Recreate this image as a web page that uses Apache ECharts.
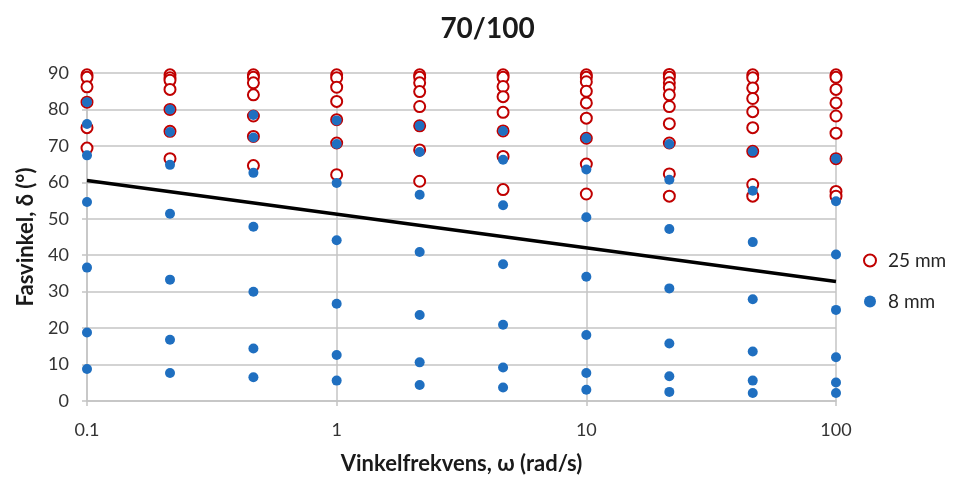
<!DOCTYPE html>
<html>
<head>
<meta charset="utf-8">
<script src="https://cdn.jsdelivr.net/npm/echarts@6/dist/echarts.min.js"></script>
<style>
  html, body { margin: 0; padding: 0; background: #fff; }
  #chart { width: 975px; height: 480px; }
</style>
</head>
<body>
<div id="chart"></div>
<script>
// Angular frequencies (rad/s) of the measurement columns
const freqs = [0.1, 0.215, 0.464, 1, 2.15, 4.64, 10, 21.5, 46.4, 100];

// Phase angle (°) per frequency column, 25 mm plate
const phase25 = [
  [90.2, 89.5, 88.8, 86.2, 82, 75, 69.4],
  [90.2, 89.5, 88.7, 88, 85.5, 80, 74, 66.5],
  [90.2, 89.5, 88.8, 87.3, 84, 78.2, 72.6, 64.6],
  [90.2, 89.5, 88.7, 86.1, 82.2, 77.2, 70.8, 62.1],
  [90.2, 89.5, 88.8, 87.3, 84.9, 80.8, 75.5, 68.9, 60.3],
  [90.2, 89.5, 88.8, 86.3, 83.5, 79.2, 74.1, 67.1, 58],
  [90.2, 89.5, 88.8, 87.6, 85, 81.8, 77.6, 72.1, 65, 56.8],
  [90.3, 89.6, 88.8, 87.3, 86, 84, 80.8, 76.1, 70.8, 62.3, 56.2],
  [90.3, 89.5, 88.7, 85.9, 83, 79.4, 75, 68.5, 59.4, 56.2],
  [90.3, 89.5, 88.8, 85.5, 81.8, 78.2, 73.5, 66.5, 57.5, 56.2]
];

// Phase angle (°) per frequency column, 8 mm plate
const phase8 = [
  [82, 76, 67.4, 54.6, 36.6, 18.8, 8.8],
  [80, 73.8, 64.8, 51.4, 33.3, 16.8, 7.7],
  [78.5, 72.3, 62.6, 47.8, 30, 14.4, 6.5],
  [77, 70.5, 59.8, 44.1, 26.7, 12.6, 5.6],
  [75.5, 68.3, 56.6, 40.9, 23.6, 10.6, 4.4],
  [74.1, 66.2, 53.7, 37.5, 20.9, 9.2, 3.7],
  [72.1, 63.5, 50.4, 34.1, 18.1, 7.7, 3.1],
  [70.5, 60.7, 47.2, 30.9, 15.8, 6.8, 2.5],
  [68.5, 57.7, 43.6, 27.9, 13.6, 5.6, 2.2],
  [66.5, 54.8, 40.2, 25, 12, 5.1, 2.2]
];

// Reference line end points
const lineFreq = [0.1, 100];
const linePhase = [60.5, 32.8];

const yTicks = [0, 10, 20, 30, 40, 50, 60, 70, 80, 90];

function pairs(cols) {
  const out = [];
  cols.forEach((vals, i) => vals.forEach(v => out.push([freqs[i], v])));
  return out;
}

const FONT = 'Lato, "Liberation Sans", sans-serif';
const GRID = '#c4c4c4';
const RED = '#c00000';
const BLUE = '#1f6fc0';

const chart = echarts.init(document.getElementById('chart'), null, { renderer: 'canvas' });
chart.setOption({
  animation: false,
  backgroundColor: '#fff',
  title: {
    text: '70/100',
    left: 'center',
    top: 10,
    textStyle: { fontFamily: FONT, fontSize: 28, fontWeight: 'bold', color: '#1a1a1a' }
  },
  legend: {
    orient: 'vertical',
    left: 858,
    top: 246,
    itemGap: 22,
    itemWidth: 12,
    itemHeight: 12,
    textStyle: { fontFamily: FONT, fontSize: 19, color: '#262626', padding: [0, 0, 0, 7] },
    data: ['25 mm', '8 mm']
  },
  grid: { left: 87, right: 139, top: 73, bottom: 78 },
  xAxis: {
    type: 'log',
    logBase: 10,
    min: 0.1,
    max: 100,
    name: 'Vinkelfrekvens, ω (rad/s)',
    nameLocation: 'middle',
    nameGap: 52,
    nameTextStyle: { fontFamily: FONT, fontSize: 22, fontWeight: 'bold', color: '#1a1a1a' },
    axisLine: { show: true, onZero: false, lineStyle: { color: GRID, width: 1.5 } },
    axisTick: { show: true, inside: false, length: 5, lineStyle: { color: GRID, width: 1.5 } },
    axisLabel: {
      fontFamily: FONT, fontSize: 18, color: '#333', margin: 20,
      formatter: v => String(+v.toPrecision(3))
    },
    splitLine: { show: true, lineStyle: { color: GRID, width: 1.5 } },
    minorTick: { show: false },
    minorSplitLine: { show: false }
  },
  yAxis: {
    type: 'value',
    min: 0,
    max: 90,
    interval: 10,
    name: 'Fasvinkel, δ (°)',
    nameLocation: 'middle',
    nameRotate: 90,
    nameGap: 48,
    nameTextStyle: { fontFamily: FONT, fontSize: 22, fontWeight: 'bold', color: '#1a1a1a' },
    axisLine: { show: true, lineStyle: { color: GRID, width: 1.5 } },
    axisTick: { show: true, inside: false, length: 5, lineStyle: { color: GRID, width: 1.5 } },
    axisLabel: {
      fontFamily: FONT, fontSize: 18, color: '#333', margin: 18,
      formatter: v => (yTicks.includes(v) ? String(v) : '')
    },
    splitLine: { show: true, lineStyle: { color: GRID, width: 1.5 } }
  },
  series: [
    {
      name: '25 mm',
      type: 'scatter',
      symbol: 'emptyCircle',
      symbolSize: 11,
      itemStyle: { color: RED, borderColor: RED, borderWidth: 2.5, opacity: 1 },
      data: pairs(phase25),
      z: 2
    },
    {
      name: '8 mm',
      type: 'scatter',
      symbol: 'circle',
      symbolSize: 10,
      itemStyle: { color: BLUE, opacity: 1 },
      data: pairs(phase8),
      z: 3
    },
    {
      name: 'line',
      type: 'line',
      symbol: 'none',
      lineStyle: { color: '#000', width: 3.5 },
      data: lineFreq.map((f, i) => [f, linePhase[i]]),
      z: 4
    }
  ]
});
</script>
</body>
</html>
